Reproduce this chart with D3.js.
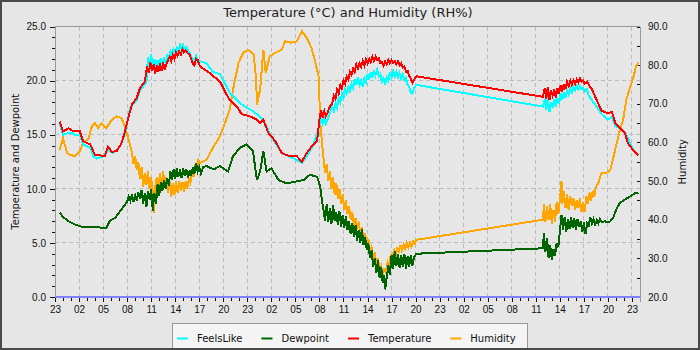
<!DOCTYPE html>
<html lang="en">
<head>
<meta charset="UTF-8">
<title>Temperature and Humidity</title>
<style>
  body { margin: 0; background: #e6e6e6; }
  svg { display: block; font-family: "DejaVu Sans", sans-serif; }
  .grid line { stroke: #bcbcbc; stroke-dasharray: 4,3; shape-rendering: crispEdges; }
  .axis text { font-size: 10px; fill: #111; }
  .axis .domain { stroke: #999; shape-rendering: crispEdges; }
  .axis line { stroke: #111; shape-rendering: crispEdges; }
  .series { fill: none; stroke-width: 2; shape-rendering: crispEdges; }
</style>
</head>
<body>
<svg width="700" height="350"></svg>
<script src="https://d3js.org/d3.v7.min.js"></script>
<script>
// hours after 23:00 on the first day, value
const feelsLike = [
  [0.6,16.0],[1.0,15.0],[1.9,15.2],[2.5,15.0],[3.1,15.0],[3.5,14.1],[4.4,13.8],[4.8,13.0],
  [5.2,12.8],[6.0,13.0],[6.6,13.6],[7.3,13.3],[8.1,13.9],[8.7,15.0],[9.4,17.5],[10.2,18.2],
  [10.6,19.1],[11.4,19.8],[11.6,22.2],[11.8,21.2],[12.0,22.4],[12.2,21.4],[12.4,22.0],[12.6,21.0],
  [12.8,21.9],[13.0,21.2],[13.2,22.1],[13.4,21.3],[13.6,22.2],[13.8,21.6],[14.0,22.3],[14.2,22.0],
  [14.4,22.7],[14.6,22.3],[14.8,22.9],[15.0,22.6],[15.2,23.0],[15.4,22.7],[15.6,23.3],[15.8,22.9],
  [16.0,23.3],[16.2,22.9],[16.4,23.1],[16.6,22.8],[16.8,22.6],[17.0,22.2],[17.2,22.0],[17.4,21.7],
  [17.6,22.3],[17.8,21.9],[18.1,21.8],[18.9,21.6],[19.7,20.8],[20.6,20.6],[21.8,18.9],[23.1,17.9],
  [23.9,17.5],[24.7,17.2],[25.8,16.5],[26.3,15.9],[27.0,14.8],[28.3,13.3],[29.8,12.8],[30.8,12.4],
  [31.4,13.0],[32.0,13.7],[32.4,14.4],[33.0,15.8],[33.2,16.6],[33.4,16.0],[33.6,16.5],[33.8,16.0],
  [34.0,16.4],[34.3,17.0],[34.6,17.6],[34.8,17.2],[35.0,17.9],[35.2,17.5],[35.4,18.4],[35.6,18.0],
  [35.8,18.8],[36.0,18.4],[36.2,19.2],[36.4,18.8],[36.6,19.4],[36.8,19.0],[37.0,19.7],[37.2,19.3],
  [37.4,20.1],[37.6,19.6],[37.8,20.3],[38.0,19.6],[38.2,20.0],[38.4,19.4],[38.6,20.2],[38.8,19.8],
  [39.0,20.6],[39.2,20.1],[39.4,20.8],[39.6,20.3],[39.8,21.0],[40.0,20.5],[40.2,21.0],[40.4,20.4],
  [40.6,20.6],[40.8,19.9],[41.0,20.2],[41.2,19.6],[41.4,20.3],[41.6,20.0],[41.8,20.8],[42.0,20.3],
  [42.2,20.9],[42.4,20.4],[42.6,20.8],[42.8,20.3],[43.0,20.7],[43.2,20.2],[43.4,20.6],[43.6,20.0],
  [43.8,20.2],[44.0,19.6],[44.2,19.4],[44.4,18.9],[44.6,18.8],[44.8,19.3],[45.1,19.6],
  [60.9,17.6],[61.1,18.3],[61.3,17.3],[61.5,18.4],[61.7,17.1],[61.9,18.0],[62.1,17.5],[62.3,18.3],
  [62.5,17.6],[62.7,18.4],[62.9,17.9],[63.1,18.8],[63.3,18.2],[63.5,18.9],[63.7,18.4],[63.9,19.1],
  [64.1,18.7],[64.3,19.3],[64.5,18.9],[64.7,19.4],[64.9,19.1],[65.1,19.5],[65.3,19.2],[65.5,19.5],
  [65.7,19.2],[65.9,19.3],[66.1,19.0],[66.4,19.2],[66.6,18.6],[67.0,18.2],[67.6,17.6],[68.2,16.9],
  [69.0,16.4],[69.5,16.6],[69.9,15.8],[70.7,15.5],[71.3,15.0],[72.2,13.5],[72.8,13.1]
];
const dewpoint = [
  [0.6,7.8],[1.0,7.4],[1.7,7.0],[2.5,6.7],[3.3,6.5],[4.2,6.45],[5.0,6.5],[5.8,6.4],
  [6.4,6.4],[6.9,7.1],[7.5,7.3],[8.1,7.9],[8.7,8.5],[9.0,8.8],[9.2,9.3],[9.4,8.9],
  [9.6,9.5],[9.8,8.8],[10.0,9.4],[10.2,8.9],[10.4,9.7],[10.6,9.1],[10.8,9.9],[11.0,8.6],
  [11.2,9.6],[11.4,8.3],[11.6,9.8],[11.8,9.0],[12.0,10.0],[12.2,8.0],[12.4,9.6],[12.6,8.6],
  [12.8,10.4],[13.0,9.3],[13.2,10.6],[13.4,9.8],[13.6,10.8],[13.8,10.0],[14.0,11.0],[14.2,10.3],
  [14.4,11.6],[14.6,10.8],[14.8,11.8],[15.0,10.9],[15.2,11.9],[15.4,11.1],[15.6,11.8],[15.8,11.0],
  [16.0,11.9],[16.2,11.2],[16.4,11.8],[16.6,11.0],[16.8,11.7],[17.0,11.2],[17.2,12.0],[17.4,11.4],
  [17.6,12.4],[17.8,11.6],[18.0,12.0],[18.2,11.4],[18.5,12.0],[18.9,12.1],[19.8,11.8],[20.6,12.1],
  [21.6,11.6],[22.2,13.0],[23.1,13.8],[23.9,14.1],[24.7,13.5],[25.2,10.8],[25.6,11.6],[26.0,13.5],
  [26.4,11.6],[27.0,11.9],[27.9,10.8],[28.9,10.5],[30.2,10.7],[31.0,10.8],[31.8,11.3],[32.7,11.1],
  [33.1,10.2],[33.3,9.0],[33.5,8.1],[33.7,7.0],[33.9,8.6],[34.1,6.9],[34.3,8.2],[34.5,6.8],
  [34.7,8.5],[34.9,7.0],[35.1,7.8],[35.3,6.7],[35.5,7.9],[35.7,6.5],[35.9,7.6],[36.1,6.4],
  [36.3,7.5],[36.5,6.2],[36.7,7.0],[36.9,5.8],[37.1,6.8],[37.3,5.6],[37.5,6.6],[37.7,5.2],
  [37.9,6.2],[38.1,5.0],[38.3,6.3],[38.5,4.8],[38.7,5.5],[38.9,4.4],[39.1,5.0],[39.3,3.6],
  [39.5,4.3],[39.7,2.8],[39.9,3.6],[40.1,2.2],[40.3,3.4],[40.5,1.8],[40.7,2.8],[40.9,1.3],
  [41.1,2.0],[41.2,0.7],[41.4,1.8],[41.6,2.9],[41.8,2.0],[42.0,3.9],[42.2,2.6],[42.4,4.2],
  [42.6,2.9],[42.8,4.0],[43.0,2.7],[43.2,3.9],[43.4,2.8],[43.6,4.0],[43.8,2.6],[44.0,3.8],
  [44.2,2.8],[44.4,3.9],[44.6,2.9],[44.8,3.7],[45.1,4.0],
  [60.9,4.5],[61.0,5.9],[61.2,4.2],[61.4,5.4],[61.6,3.6],[61.8,4.8],[62.0,3.4],[62.2,4.4],
  [62.4,3.8],[62.6,5.0],[62.8,4.6],[63.0,6.0],[63.2,7.6],[63.4,6.2],[63.6,7.4],[63.8,6.0],
  [64.0,7.2],[64.2,6.3],[64.4,7.4],[64.6,6.4],[64.8,7.3],[65.0,6.2],[65.2,7.2],[65.4,6.5],
  [65.6,7.0],[65.8,6.0],[66.0,6.9],[66.2,5.8],[66.4,6.8],[66.6,6.6],[66.8,7.4],[67.0,6.8],
  [67.2,7.2],[67.4,6.7],[67.6,7.1],[67.8,6.8],[68.0,7.2],[68.3,6.9],[68.6,7.0],[69.0,6.9],
  [69.3,7.0],[69.7,7.4],[70.1,8.2],[70.5,8.7],[71.1,9.0],[71.8,9.3],[72.4,9.6],[72.8,9.65]
];
const temperature = [
  [0.6,16.2],[1.0,15.3],[1.7,15.6],[2.3,15.3],[3.1,15.3],[3.5,14.4],[4.4,14.1],[5.0,13.1],
  [5.6,13.1],[6.2,13.0],[6.6,13.9],[7.1,13.4],[7.7,13.5],[8.3,14.2],[8.7,15.2],[9.2,16.7],
  [9.6,17.8],[10.2,18.4],[10.6,19.3],[11.2,19.9],[11.5,21.3],[11.7,20.7],[11.9,21.7],[12.1,20.9],
  [12.3,21.5],[12.5,20.6],[12.7,21.4],[12.9,20.8],[13.1,21.6],[13.3,20.9],[13.5,21.7],[13.7,21.0],
  [13.9,21.5],[14.1,21.9],[14.3,22.2],[14.5,21.8],[14.7,22.4],[14.9,22.0],[15.1,22.6],[15.3,22.3],
  [15.5,22.7],[15.7,22.4],[15.9,22.9],[16.1,22.6],[16.3,22.8],[16.6,22.5],[16.8,22.4],[17.0,22.0],
  [17.2,21.6],[17.4,21.4],[17.6,22.0],[17.8,21.9],[18.1,21.3],[19.3,20.7],[20.6,19.9],[21.2,19.0],
  [21.8,18.2],[22.7,17.6],[23.3,16.9],[24.3,16.7],[25.2,16.4],[25.6,16.1],[26.0,16.4],[26.6,15.2],
  [27.5,14.4],[28.3,13.3],[29.3,13.0],[30.2,13.0],[30.8,12.5],[31.4,13.3],[32.0,13.9],[32.7,14.4],
  [33.0,16.4],[33.2,17.3],[33.4,16.6],[33.6,17.2],[33.8,16.7],[34.0,17.0],[34.3,17.6],[34.6,17.9],
  [34.8,18.6],[35.0,18.3],[35.2,19.2],[35.4,18.8],[35.6,19.6],[35.8,19.3],[36.0,20.0],[36.2,19.7],
  [36.4,20.4],[36.6,20.1],[36.8,20.8],[37.0,20.5],[37.2,21.1],[37.4,20.8],[37.6,21.5],[37.8,21.1],
  [38.0,21.6],[38.2,21.3],[38.4,21.8],[38.6,21.4],[38.8,22.0],[39.0,21.6],[39.2,22.0],[39.4,21.7],
  [39.6,22.2],[39.8,21.8],[40.0,22.2],[40.2,21.9],[40.4,22.1],[40.6,21.6],[40.8,21.7],[41.0,21.4],
  [41.2,21.8],[41.4,21.5],[41.6,21.9],[41.8,21.6],[42.0,21.9],[42.2,21.6],[42.4,21.8],[42.6,21.5],
  [42.8,21.8],[43.0,21.4],[43.2,21.6],[43.4,21.2],[43.6,21.3],[43.8,20.8],[44.0,20.9],[44.2,20.4],
  [44.4,20.2],[44.6,19.8],[44.8,20.1],[45.1,20.4],
  [60.9,18.5],[61.1,19.3],[61.3,18.3],[61.5,19.4],[61.7,18.2],[61.9,19.1],[62.1,18.6],[62.3,19.2],
  [62.5,18.4],[62.7,19.3],[62.9,18.8],[63.1,19.6],[63.3,19.0],[63.5,19.7],[63.7,19.2],[63.9,19.9],
  [64.1,19.5],[64.3,20.0],[64.5,19.6],[64.7,20.0],[64.9,19.7],[65.1,20.1],[65.3,19.8],[65.5,20.2],
  [65.7,19.9],[65.9,20.0],[66.1,19.7],[66.4,19.9],[66.7,19.5],[67.0,19.2],[67.6,18.2],[68.2,17.2],
  [69.0,17.0],[69.5,17.1],[69.9,16.1],[70.5,15.6],[71.1,15.2],[71.5,14.2],[72.2,13.5],[72.8,13.1]
];
const humidity = [
  [0.6,58.1],[1.0,61.1],[1.5,57.3],[1.9,56.8],[2.5,56.4],[3.1,57.7],[3.5,59.8],[4.2,61.1],
  [4.6,64.2],[5.0,65.0],[5.4,63.7],[5.8,65.0],[6.4,63.7],[7.1,65.9],[7.7,66.7],[8.3,66.3],
  [8.7,64.2],[9.2,60.7],[9.6,57.3],[9.8,54.5],[10.0,56.5],[10.2,52.8],[10.4,55.0],[10.6,50.5],
  [10.8,53.5],[11.0,48.5],[11.2,52.0],[11.4,49.0],[11.6,52.5],[11.8,48.0],[12.0,51.0],[12.2,47.0],
  [12.35,41.7],[12.5,48.5],[12.7,51.0],[12.9,47.5],[13.1,52.0],[13.3,49.0],[13.5,52.5],[13.7,48.5],
  [13.9,51.0],[14.1,47.0],[14.3,50.0],[14.5,45.8],[14.7,49.5],[14.9,46.5],[15.1,50.0],[15.3,47.0],
  [15.5,50.0],[15.7,47.5],[15.9,49.8],[16.1,47.2],[16.3,50.0],[16.5,48.0],[16.7,50.5],[16.9,49.5],
  [17.1,53.0],[17.3,51.0],[17.5,54.5],[17.7,53.0],[17.9,55.5],[18.1,54.7],[18.9,55.5],[19.8,59.0],
  [20.6,61.6],[21.2,65.0],[21.8,68.5],[22.3,74.5],[22.9,80.6],[23.5,83.2],[24.1,84.0],[24.8,82.7],
  [25.1,76.3],[25.2,69.8],[25.6,73.7],[26.0,84.0],[26.3,78.0],[26.8,82.3],[27.5,83.2],[28.3,84.0],
  [28.7,86.2],[29.5,85.8],[30.2,86.2],[30.8,88.8],[31.4,87.1],[32.0,84.5],[32.4,81.4],[32.9,77.1],
  [33.1,65.0],[33.5,56.0],[33.7,52.0],[33.9,54.5],[34.1,50.0],[34.3,52.5],[34.5,48.0],[34.7,51.0],
  [34.9,46.5],[35.1,49.5],[35.3,45.5],[35.5,48.0],[35.7,44.0],[35.9,46.5],[36.1,42.5],[36.3,45.0],
  [36.5,41.5],[36.7,43.5],[36.9,40.0],[37.1,42.0],[37.3,38.5],[37.5,40.5],[37.7,37.5],[37.9,39.5],
  [38.1,36.0],[38.3,38.0],[38.5,35.0],[38.7,36.5],[38.9,33.5],[39.1,35.0],[39.3,32.0],[39.5,33.0],
  [39.7,30.0],[39.9,31.5],[40.1,28.5],[40.3,30.0],[40.5,27.0],[40.7,28.0],[40.9,25.5],[41.1,27.5],
  [41.3,26.0],[41.5,29.0],[41.7,28.0],[41.9,31.0],[42.1,29.5],[42.3,32.5],[42.5,30.5],[42.7,33.0],
  [42.9,31.5],[43.1,33.5],[43.3,32.0],[43.5,33.5],[43.7,32.5],[43.9,34.0],[44.1,32.8],[44.3,34.0],
  [44.5,33.0],[44.7,34.5],[44.9,33.8],[45.1,34.8],
  [60.9,40.0],[61.0,44.0],[61.2,39.5],[61.4,43.5],[61.6,40.0],[61.8,44.0],[62.0,39.0],[62.2,42.5],
  [62.4,39.5],[62.6,44.5],[62.8,41.5],[63.0,45.0],[63.2,50.0],[63.3,44.0],[63.5,47.5],[63.7,43.0],
  [63.9,46.5],[64.1,42.5],[64.3,46.0],[64.5,43.5],[64.7,45.5],[64.9,42.5],[65.1,45.0],[65.3,43.0],
  [65.5,45.5],[65.7,42.0],[65.9,44.5],[66.1,42.0],[66.3,46.0],[66.5,44.0],[66.7,47.0],[66.9,45.0],
  [67.1,47.5],[67.3,46.0],[67.5,48.5],[67.8,49.5],[68.2,52.1],[68.8,52.1],[69.3,52.9],[69.7,56.4],
  [70.1,59.8],[70.5,63.3],[70.9,65.9],[71.3,71.1],[71.8,74.5],[72.2,77.1],[72.5,79.7],[72.8,80.6]
];
const baseline = [[0,0],[73,0]];

// legend order; humidity is painted first so the left-axis lines sit on top of it
const series = [
  {name: "FeelsLike", data: feelsLike, color: "#00ffff", axis: "left", z: 1},
  {name: "Dewpoint", data: dewpoint, color: "#006400", axis: "left", z: 2},
  {name: "Temperature", data: temperature, color: "#ff0000", axis: "left", z: 3},
  {name: "Humidity", data: humidity, color: "#ffa500", axis: "right", z: 0}
];

const leftTicks = [0, 5, 10, 15, 20, 25];
const rightTicks = [20, 30, 40, 50, 60, 70, 80, 90];

const width = 700, height = 350;
const plot = {left: 55, right: 640, top: 26.5, bottom: 297};

const start = new Date(2024, 5, 10, 23, 0);
const at = h => new Date(start.getTime() + h * 3600e3);

const x = d3.scaleTime().domain([at(0), at(73)]).range([plot.left, plot.right]);
const yL = d3.scaleLinear().domain([0, 25]).range([plot.bottom, plot.top]);
const yR = d3.scaleLinear().domain([20, 90]).range([plot.bottom, plot.top]);

const svg = d3.select("svg");

svg.append("rect").attr("width", width).attr("height", height).attr("fill", "#e6e6e6");

// grid
const majorTimes = d3.range(3, 73, 3).map(at);
svg.append("g").attr("class", "grid")
  .selectAll("line").data(majorTimes).join("line")
  .attr("x1", d => x(d)).attr("x2", d => x(d))
  .attr("y1", plot.top).attr("y2", plot.bottom);
svg.append("g").attr("class", "grid")
  .selectAll("line").data(leftTicks.slice(1, -1)).join("line")
  .attr("x1", plot.left).attr("x2", plot.right)
  .attr("y1", d => yL(d)).attr("y2", d => yL(d));

// frame
svg.append("line").attr("x1", plot.left).attr("x2", plot.right)
  .attr("y1", plot.top).attr("y2", plot.top).attr("stroke", "#999")
  .attr("shape-rendering", "crispEdges");

// axes
svg.append("g").attr("class", "axis")
  .attr("transform", `translate(${plot.left},0)`)
  .call(d3.axisLeft(yL).tickValues(d3.range(0, 26, 1)).tickSize(3).tickFormat(""));
svg.append("g").attr("class", "axis")
  .attr("transform", `translate(${plot.left},0)`)
  .call(d3.axisLeft(yL).tickValues(leftTicks).tickSize(5).tickPadding(4).tickFormat(d3.format(".1f")));

svg.append("g").attr("class", "axis")
  .attr("transform", `translate(${plot.right},0)`)
  .call(d3.axisRight(yR).tickValues(d3.range(20, 91, 5)).tickSize(-3.5).tickFormat(""));
svg.append("g").attr("class", "axis")
  .attr("transform", `translate(${plot.right},0)`)
  .call(d3.axisRight(yR).tickValues(rightTicks).tickSize(-3.5).tickPadding(8).tickFormat(d3.format(".1f")));

svg.append("g").attr("class", "axis")
  .attr("transform", `translate(0,${plot.bottom})`)
  .call(d3.axisBottom(x).tickValues(d3.range(0, 74, 1).map(at)).tickSize(3.5).tickFormat(""));
svg.append("g").attr("class", "axis")
  .attr("transform", `translate(0,${plot.bottom})`)
  .call(d3.axisBottom(x).tickValues(d3.range(0, 74, 3).map(at)).tickSize(5).tickPadding(4)
    .tickFormat(d3.timeFormat("%H")));

// lines
series.slice().sort((a, b) => a.z - b.z).forEach(s => {
  const y = s.axis === "left" ? yL : yR;
  const line = d3.line().x(d => x(at(d[0]))).y(d => y(d[1]));
  svg.append("path").datum(s.data)
    .attr("class", "series")
    .attr("d", line)
    .attr("stroke", s.color);
});

svg.append("path").datum(baseline)
  .attr("class", "series")
  .attr("d", d3.line().x(d => x(at(d[0]))).y(d => yL(d[1])))
  .attr("stroke", "#8080ff").attr("stroke-width", 2.5);

// titles
svg.append("text").attr("x", 348).attr("y", 16.5).attr("text-anchor", "middle")
  .attr("font-size", 13).attr("fill", "#222")
  .text("Temperature (°C) and Humidity (RH%)");
svg.append("text").attr("transform", `translate(19,${(plot.top + plot.bottom) / 2}) rotate(-90)`)
  .attr("text-anchor", "middle").attr("font-size", 10).attr("fill", "#111")
  .text("Temperature and Dewpoint");
svg.append("text").attr("transform", `translate(686,${(plot.top + plot.bottom) / 2}) rotate(-90)`)
  .attr("text-anchor", "middle").attr("font-size", 10).attr("fill", "#111")
  .text("Humidity");

// legend
const legend = svg.append("g");
legend.append("rect").attr("x", 172.5).attr("y", 323.5).attr("width", 355).attr("height", 40)
  .attr("fill", "#f4f4f4").attr("stroke", "#999");
let cx = 177;
series.forEach(s => {
  legend.append("line").attr("x1", cx).attr("x2", cx + 11)
    .attr("y1", 338.5).attr("y2", 338.5).attr("stroke", s.color).attr("stroke-width", 2);
  const t = legend.append("text").attr("x", cx + 20).attr("y", 342)
    .attr("font-size", 10).attr("fill", "#111").text(s.name);
  cx += 20 + t.node().getComputedTextLength() + 19;
});

// outer border
svg.append("rect").attr("x", 1).attr("y", 1).attr("width", width - 2).attr("height", height - 2)
  .attr("fill", "none").attr("stroke", "#4a4a4a").attr("stroke-width", 2);
</script>
</body>
</html>
